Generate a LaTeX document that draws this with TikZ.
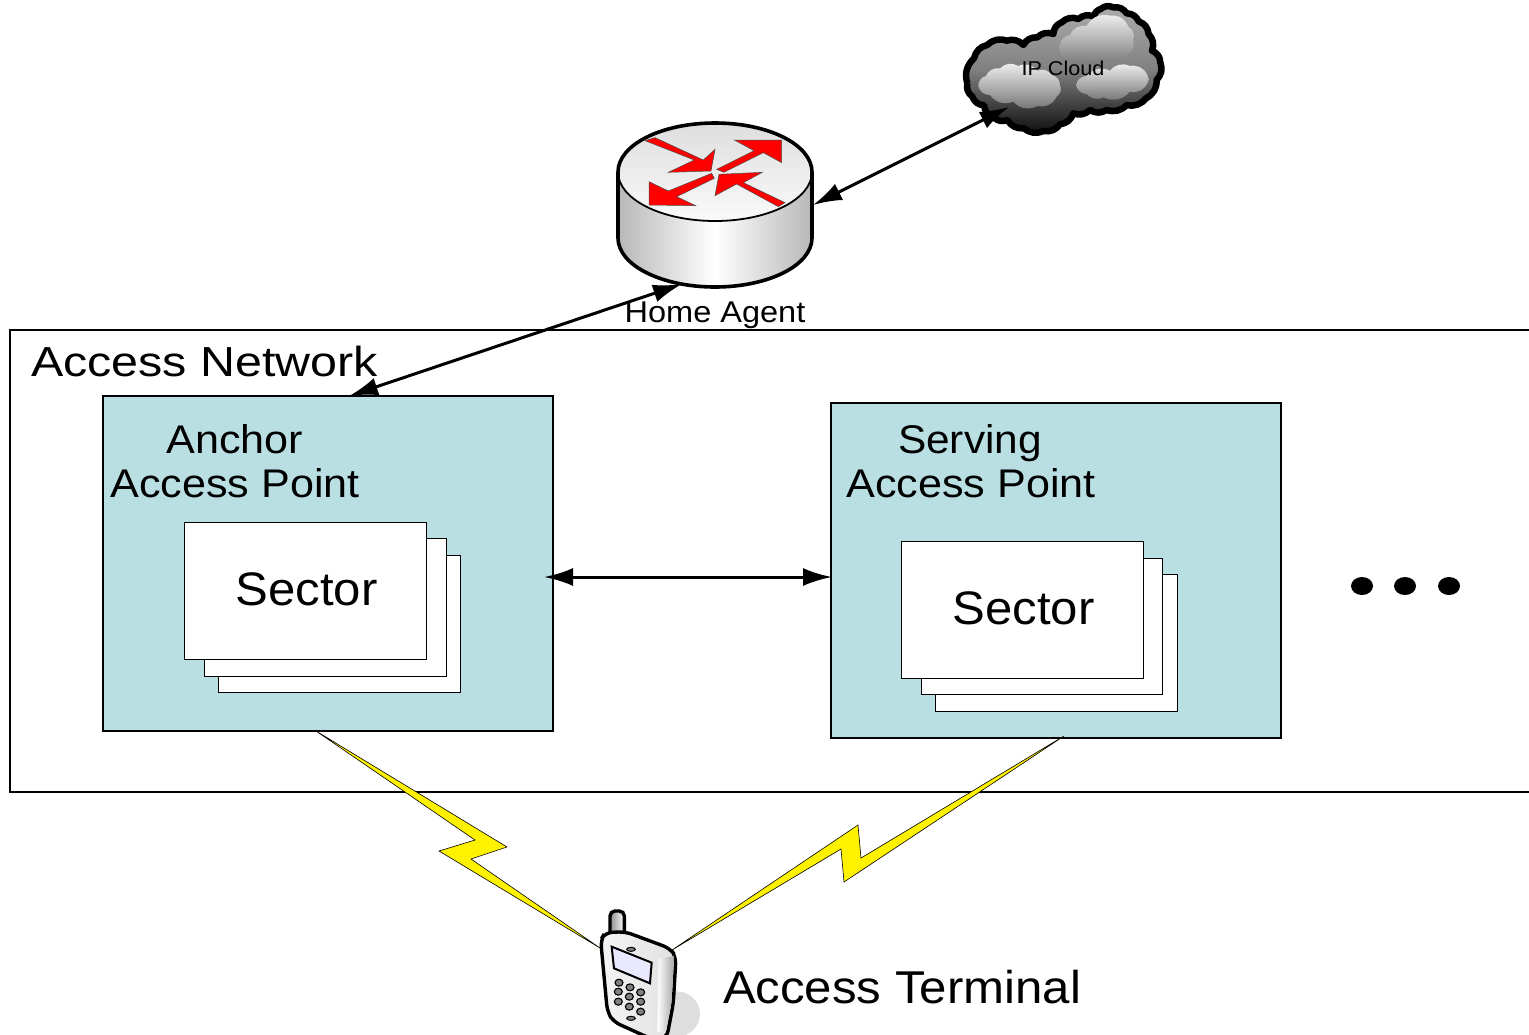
\documentclass[tikz,border=0pt]{standalone}
\usepackage{fontspec}
\setmainfont{Liberation Sans}
\usetikzlibrary{arrows.meta,shapes.geometric}
\definecolor{apfill}{HTML}{B9DFE3}
\tikzset{
  apbox/.style={draw=black,line width=1.6pt,fill=apfill,rectangle},
  sheet/.style={draw=black,line width=.9pt,fill=white},
  bolt/.style={draw=black,line width=.6pt,fill=yellow,line join=miter},
  redarrow/.style={draw=black!70,line width=.5pt,fill=red},
  link/.style={line width=3pt,{Latex[length=29pt,width=18pt]}-{Latex[length=29pt,width=18pt]}},
  txt/.style={inner sep=0pt,outer sep=0pt,text=black,transform shape},
  dot3/.style={fill=black,ellipse,minimum width=22pt,minimum height=18pt,inner sep=0pt},
  key/.style={draw=black,line width=1.1pt,fill=black!50},
  puff/.style={top color=black!6,bottom color=black!55,line join=round}
}
\newcommand{\fs}[1]{\fontsize{#1}{#1}\selectfont}
% scalloped closed outline from a list of points
\newcommand{\scallop}[2][55]{%
  \foreach \px/\py [count=\i] in {#2}{%
    \ifnum\i=1 \xdef\scpath{(\px,\py)}\xdef\scstart{(\px,\py)}\else
    \xdef\scpath{\scpath to[bend left=#1] (\px,\py)}\fi
  }%
  \xdef\scpath{\scpath to[bend left=#1] \scstart}%
}
\begin{document}
\begin{tikzpicture}[x=1pt,y=-1pt]
\useasboundingbox (0,0) rectangle (1529,1034);
\clip (0,0) rectangle (1529,1034);
% access network frame
\draw[line width=1.6pt] (1530,330) -- (10,330) -- (10,792) -- (1530,792);
\node[txt,anchor=base west,xscale=1.153] (an) at (31,376) {\fs{42}Access Network};
% APs
\path[apbox] (103,396) rectangle (553,731);
\path[apbox] (831,403) rectangle (1281,738);
\coordinate (anchorTop) at (349,396);
\coordinate (anchorRight) at (544,577);
\coordinate (servingLeft) at (832,577);
\node[txt,anchor=base,xscale=1.078] (a1) at (235,453) {\fs{40}Anchor};
\node[txt,anchor=base,xscale=1.078] (a2) at (235,497) {\fs{40}Access Point};
\node[txt,anchor=base,xscale=1.06] (s1) at (970,453) {\fs{40}Serving};
\node[txt,anchor=base,xscale=1.078] (s2) at (971,497) {\fs{40}Access Point};
% sheets
\draw[sheet] (218,555) rectangle (460.5,692.5);
\draw[sheet] (204,538) rectangle (446.5,676.5);
\draw[sheet] (184,522) rectangle (426.5,659.5);
\node[txt,anchor=base,xscale=1.045] (sa) at (306.5,605) {\fs{47}Sector};
\draw[sheet] (935,574) rectangle (1177.5,711.5);
\draw[sheet] (921,558) rectangle (1162.5,694.5);
\draw[sheet] (901,541) rectangle (1143.5,678.5);
\node[txt,anchor=base,xscale=1.045] (sb) at (1023.5,624) {\fs{47}Sector};
% dots
\node[dot3] (d1) at (1362,586) {};
\node[dot3] (d2) at (1405,586) {};
\node[dot3] (d3) at (1449,586) {};
% lightning
\path[bolt] (316,731) -- (507,847) -- (471,859) -- (600,948) -- (439,851) -- (475,840) -- cycle;
\path[bolt] (672,950) -- (858,825) -- (861,858) -- (1064,736) -- (844,882) -- (841,849) -- cycle;
% router
\path[left color=black!28,right color=black!28,middle color=white]
  (618,172) -- (618,238) .. controls (618,265) and (661,287) .. (715,287)
  .. controls (769,287) and (812,265) .. (812,238) -- (812,172) -- cycle;
\path[draw=black,line width=1.8pt,top color=black!13,bottom color=black!2]
  (618,172) .. controls (618,145) and (661,123) .. (715,123)
  .. controls (769,123) and (812,145) .. (812,172)
  .. controls (812,199) and (769,221) .. (715,221)
  .. controls (661,221) and (618,199) .. (618,172) -- cycle;
\draw[line width=3.6pt,line join=round]
  (618,172) -- (618,238) .. controls (618,265) and (661,287) .. (715,287)
  .. controls (769,287) and (812,265) .. (812,238) -- (812,172)
  .. controls (812,145) and (769,123) .. (715,123)
  .. controls (661,123) and (618,145) .. (618,172) -- cycle;
\begin{scope}[shift={(600,110)},x=.3333pt,y=-.3333pt]
\path[redarrow] (135,92) -- (165,83) -- (310,150) -- (345,118) -- (333,183) -- (205,187) -- (283,150) -- cycle;
\path[redarrow] (350,178) -- (372,187) -- (490,128) -- (545,158) -- (545,90) -- (403,90) -- (462,122) -- cycle;
\path[redarrow] (335,190) -- (343,205) -- (230,260) -- (287,287) -- (147,285) -- (147,215) -- (205,243) -- cycle;
\path[redarrow] (555,278) -- (535,290) -- (410,222) -- (345,257) -- (357,193) -- (487,187) -- (430,218) -- cycle;
\end{scope}
\coordinate (routerRight) at (813,205);
\coordinate (routerBottom) at (682,284);
\node[txt,anchor=base,xscale=1.084] (ha) at (715,322) {\fs{30}Home Agent};
% cloud
\begin{scope}[shift={(950,0)},x=.3333pt,y=-.3333pt]
\scallop[32]{52/250,72/175,112/135,170/122,220/135,262/112,310/102,335/67,385/57,432/50,452/27,490/22,530/40,566/64,596/102,606/152,631/187,620/240,588/295,530/315,470/330,420/330,370/340,330/373,280/393,222/385,172/360,132/353,102/316,67/290}
\path[draw=black,line width=6.5pt,line join=round,top color=black!32,bottom color=black!95,middle color=black!50] \scpath;
\scallop[38]{85/258,108/228,150/205,205/198,262/212,305/225,330/255,320/290,262/318,190/305,120/285}
\path[puff] \scpath;
\scallop[38]{328/140,360/105,410/78,480/47,535/80,550/120,530/165,470/182,400/187,345/172}
\path[puff] \scpath;
\scallop[38]{378/255,410/228,480/212,540/198,592/225,592/250,540/275,460/292,410/282}
\path[puff] \scpath;
\end{scope}
\coordinate (cloudPt) at (1009,107);
\node[txt,anchor=base,xscale=1.08] (ipc) at (1063,75) {\fs{20}IP Cloud};
% phone
\begin{scope}[shift={(570,890)},x=.3333pt,y=-.3333pt]
\fill[black!13] (320,372) ellipse [x radius=70,y radius=68];
\path[draw=black,line width=3.4pt,left color=black!45,right color=white,rounded corners=5pt] (120,140) -- (120,63) -- (163,63) -- (163,148) -- cycle;
\path[draw=black,line width=3.4pt,left color=black!4,right color=black!12,rounded corners=7pt]
 (92,150) -- (105,128) -- (165,125) -- (300,175) -- (318,200) -- (310,340) -- (290,445) -- (240,445) -- (130,395) -- (112,365) -- cycle;
\path[left color=white,right color=black!35] (266,207) -- (312,198) -- (304,340) -- (286,428) -- (262,425) -- cycle;
\path[draw=black,line width=2pt,fill=blue!9] (125,170) -- (245,218) -- (240,280) -- (132,235) -- cycle;
\path[draw=black,line width=1pt,fill=black!50] (183,178) ellipse [x radius=13,y radius=6];
\path[draw=black,line width=1pt,fill=black!50] (183,385) ellipse [x radius=13,y radius=6];
\foreach \kx/\ky in {147/278,180/292,212/307,145/305,178/320,212/335,145/335,178/350,212/365}
  \path[key] (\kx,\ky) ellipse [x radius=12,y radius=10.5];
\end{scope}
\node[txt,anchor=base west,xscale=1.069] (at) at (723,1003) {\fs{46}Access Terminal};
% links
\draw[link] (cloudPt) -- (routerRight);
\draw[link] (routerBottom) -- (anchorTop);
\draw[link] (anchorRight) -- (servingLeft);
\end{tikzpicture}
\end{document}
